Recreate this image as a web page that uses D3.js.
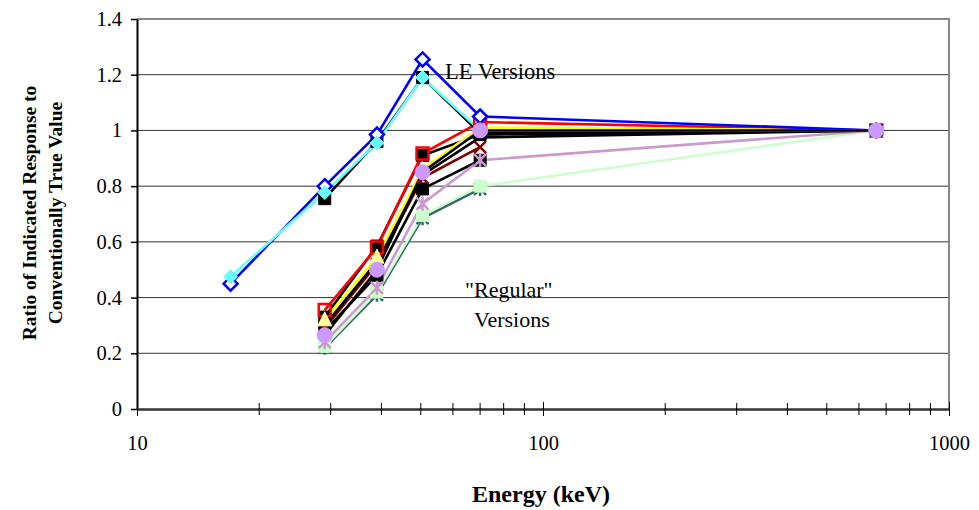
<!DOCTYPE html>
<html><head><meta charset="utf-8">
<script src="https://cdn.jsdelivr.net/npm/d3@7/dist/d3.min.js"></script>
<style>body{margin:0;background:#fff}svg{display:block}</style>
</head><body>
<svg id="c" width="979" height="510"></svg>
<script>
// Data
const energies = [17, 29, 39, 50.5, 70, 662];
const yTicks = [0, 0.2, 0.4, 0.6, 0.8, 1, 1.2, 1.4];
const yTickLabels = ["0", "0.2", "0.4", "0.6", "0.8", "1", "1.2", "1.4"];
const xTicks = [10, 100, 1000];
const xTickLabels = ["10", "100", "1000"];
// series values (null = no reading at that energy)
const leBlue   = [0.45, 0.80, 0.985, 1.255, 1.05, 1.0];
const leBlack  = [null, 0.755, 0.96, 1.19, 0.99, 1.0];
const leCyan   = [0.475, 0.777, 0.955, 1.19, 1.0, 1.0];
const regGreen = [null, 0.225, 0.42, 0.695, 0.80, 1.0];
const regTeal  = [null, 0.22, 0.41, 0.685, 0.79, null];
const regPink  = [null, 0.24, 0.435, 0.737, 0.893, 1.0];
const regBlackA= [null, 0.28, 0.48, 0.79, 0.893, null];
const regDarkRed=[null, 0.29, 0.52, 0.83, 0.94, null];
const regBlackB= [null, 0.30, 0.53, 0.84, 0.975, 1.0];
const regYellow= [null, 0.32, 0.545, 0.86, 1.01, 1.0];
const regBlackC= [null, 0.33, 0.585, 0.91, 0.985, 1.0];
const regRed   = [null, 0.355, 0.58, 0.917, 1.03, 1.0];
const regPurple= [null, 0.265, 0.50, 0.85, 1.0, 1.0];

const series = [
  {v: regTeal, line: "#336666", marker: "star", fill: "none", stroke: "#336666"},
  {v: regGreen, line: "#CCFFCC", marker: "square", fill: "#CCFFCC", stroke: "#CCFFCC"},
  {v: regBlackA, line: "#000000", marker: "square", fill: "#000", stroke: "#000"},
  {v: regPink, line: "#CC99CC", marker: "asterisk", fill: "none", stroke: "#CC99CC"},
  {v: regDarkRed, line: "#800000", marker: "x", fill: "none", stroke: "#800000"},
  {v: regBlackB, line: "#000000", marker: "none"},
  {v: regBlackC, line: "#000000", marker: "square", fill: "#000", stroke: "#000"},
  {v: regRed, line: "#FF0000", marker: "square", fill: "none", stroke: "#FF0000"},
  {v: regYellow, line: "#FFFF00", marker: "triangle", fill: "#FFFF99", stroke: "#FFFF99"},
  {v: leBlack, line: "#000000", marker: "square", fill: "#000", stroke: "#000"},
  {v: leBlue, line: "#0000FF", marker: "diamond", fill: "#fff", stroke: "#0000FF"},
  {v: leCyan, line: "#66FFFF", marker: "diamond", fill: "#66FFFF", stroke: "#66FFFF"},
  {v: regPurple, line: "#000000", marker: "circle", fill: "#CC99FF", stroke: "#CC99FF"}
];

const svg = d3.select("#c");
const L = 137, R = 949, T = 19, B = 409;
const x = d3.scaleLog().domain([10, 1000]).range([L, R]);
const y = d3.scaleLinear().domain([0, 1.4]).range([B, T]);
const font = "'Liberation Serif','Times New Roman',serif";

// gridlines
svg.append("g").selectAll("line").data(yTicks.slice(1, -1)).join("line")
  .attr("x1", L).attr("x2", R).attr("y1", d => y(d)).attr("y2", d => y(d))
  .attr("stroke", "#333").attr("stroke-width", 1);
// plot border top & right
svg.append("path").attr("d", `M${L},${y(1.4)}H${R}V${B}`).attr("fill", "none")
  .attr("stroke", "#888").attr("stroke-width", 2);

// y axis
const yAxis = d3.axisLeft(y).tickValues(yTicks).tickFormat((d, i) => yTickLabels[i]).tickSizeInner(6).tickSizeOuter(0).tickPadding(9);
const gy = svg.append("g").attr("transform", `translate(${L},0)`).call(yAxis);
gy.select(".domain").attr("stroke", "#000").attr("stroke-width", 2);
gy.selectAll(".tick line").attr("stroke", "#000").attr("stroke-width", 1.5);
gy.selectAll("text").attr("font-family", font).attr("font-size", 20.5).attr("fill", "#000");

// x axis
const minor = [];
for (let dec = 10; dec < 1000; dec *= 10) for (let k = 2; k <= 9; k++) minor.push(dec * k);
const xAxis = d3.axisBottom(x).tickValues(xTicks).tickFormat((d, i) => xTickLabels[i]).tickSizeInner(7).tickSizeOuter(0).tickPadding(19);
const gx = svg.append("g").attr("transform", `translate(0,${B})`).call(xAxis);
gx.select(".domain").attr("stroke", "#333").attr("stroke-width", 2.5);
gx.selectAll(".tick line").attr("y1", -7).attr("stroke", "#000").attr("stroke-width", 1);
gx.selectAll("text").attr("font-family", font).attr("font-size", 20.5).attr("fill", "#000");
gx.append("g").selectAll("line").data(minor).join("line")
  .attr("x1", d => x(d)).attr("x2", d => x(d)).attr("y1", -6).attr("y2", 6)
  .attr("stroke", "#000").attr("stroke-width", 1);

// markers
function markerPath(type, cx, cy) {
  const s = 6;
  switch (type) {
    case "square": return `M${cx - s},${cy - s}h${2 * s}v${2 * s}h${-2 * s}Z`;
    case "diamond": return `M${cx},${cy - 7}L${cx + 7},${cy}L${cx},${cy + 7}L${cx - 7},${cy}Z`;
    case "triangle": return `M${cx},${cy - 8}L${cx + 7},${cy + 6}L${cx - 7},${cy + 6}Z`;
    case "x": return `M${cx - s},${cy - s}L${cx + s},${cy + s}M${cx - s},${cy + s}L${cx + s},${cy - s}`;
    case "asterisk": return `M${cx - s},${cy - s}L${cx + s},${cy + s}M${cx - s},${cy + s}L${cx + s},${cy - s}M${cx},${cy - s - 1}V${cy + s + 1}`;
    case "star": return `M${cx - s},${cy - s}L${cx + s},${cy + s}M${cx - s},${cy + s}L${cx + s},${cy - s}M${cx},${cy - s - 1}V${cy + s + 1}M${cx - s},${cy}H${cx + s}`;
  }
  return "";
}

const gSeries = svg.append("g");
series.forEach(s => {
  const pts = energies.map((e, i) => ({e, v: s.v[i]})).filter(p => p.v != null);
  const line = d3.line().x(p => x(p.e)).y(p => y(p.v));
  gSeries.append("path").attr("d", line(pts)).attr("fill", "none")
    .attr("stroke", s.line).attr("stroke-width", 2.6).attr("stroke-linejoin", "miter");
});
series.forEach(s => {
  if (s.marker === "none") return;
  const pts = energies.map((e, i) => ({e, v: s.v[i]})).filter(p => p.v != null);
  pts.forEach(p => {
    const cx = x(p.e), cy = y(p.v);
    if (s.marker === "circle") {
      gSeries.append("circle").attr("cx", cx).attr("cy", cy).attr("r", 7.5)
        .attr("fill", s.fill).attr("stroke", s.stroke);
    } else {
      const open = s.fill === "none" || s.fill === "#fff";
      gSeries.append("path").attr("d", markerPath(s.marker, cx, cy))
        .attr("fill", s.fill).attr("stroke", s.stroke)
        .attr("stroke-width", open ? 2.5 : 1);
    }
  });
});

// annotations
svg.append("text").attr("x", 445).attr("y", 79).attr("font-family", font).attr("font-size", 22.5).text("LE Versions");
svg.append("text").attr("x", 465).attr("y", 297).attr("font-family", font).attr("font-size", 22).text("\"Regular\"");
svg.append("text").attr("x", 474).attr("y", 327).attr("font-family", font).attr("font-size", 22).text("Versions");

// axis titles
svg.append("text").attr("x", 541).attr("y", 502).attr("text-anchor", "middle").attr("font-family", font)
  .attr("font-size", 24).attr("font-weight", "bold").text("Energy (keV)");
const yt = svg.append("text").attr("transform", "translate(0,213) rotate(-90)").attr("text-anchor", "middle")
  .attr("font-family", font).attr("font-size", 19.5).attr("font-weight", "bold");
yt.append("tspan").attr("x", 0).attr("y", 36).text("Ratio of Indicated Response to");
yt.append("tspan").attr("x", 0).attr("y", 62).text("Conventionally True Value");
</script>
</body></html>
